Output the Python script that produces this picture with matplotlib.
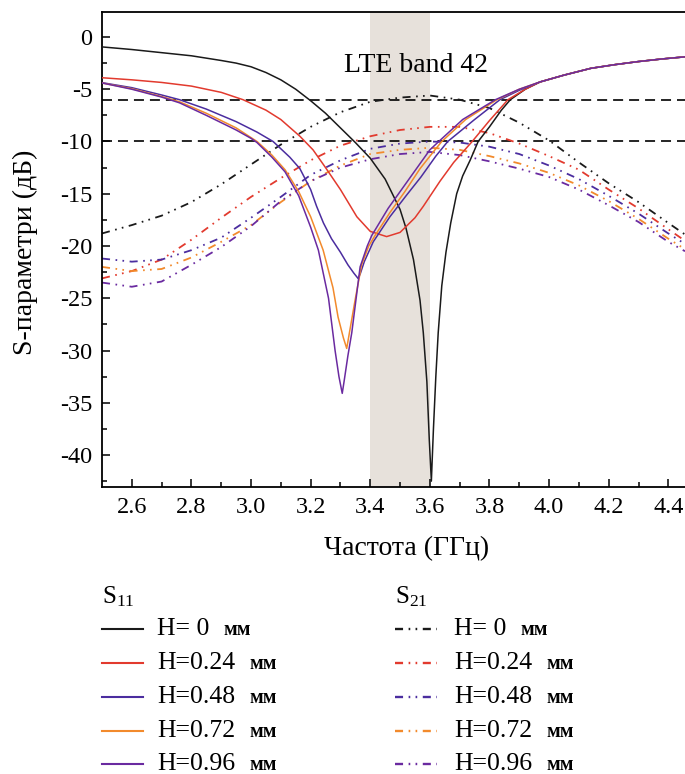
import matplotlib
matplotlib.use("Agg")
import matplotlib.pyplot as plt
from matplotlib.lines import Line2D

plt.rcParams['font.family'] = ['Liberation Serif', 'DejaVu Serif']
plt.rcParams['axes.unicode_minus'] = False
plt.rcParams['mathtext.fontset'] = 'custom'
plt.rcParams['mathtext.rm'] = 'Liberation Serif'
plt.rcParams['mathtext.it'] = 'Liberation Serif:italic'
plt.rcParams['lines.scale_dashes'] = False

# ---------------- data ----------------
labels = ["H= 0", "H=0.24", "H=0.48", "H=0.72", "H=0.96"]
unit = "мм"
colors = ["#1a1a1a", "#e23a2e", "#4b2d9f", "#f28a2c", "#6a2aa0"]

tail_f = [3.97, 4.05, 4.14, 4.22, 4.30, 4.38, 4.456]
tail_v = [-4.3, -3.65, -3.0, -2.65, -2.35, -2.1, -1.9]

s11_f0 = [2.5, 2.6, 2.7, 2.8, 2.9, 2.95, 3.0, 3.05, 3.1, 3.15, 3.2, 3.25, 3.3, 3.35, 3.4,
          3.45, 3.5, 3.52, 3.545, 3.567, 3.578, 3.59, 3.598, 3.605, 3.612, 3.62, 3.628,
          3.64, 3.654, 3.67, 3.69, 3.71, 3.735, 3.762, 3.8, 3.84, 3.87, 3.92] + tail_f
s11_v0 = [-0.95, -1.2, -1.5, -1.8, -2.25, -2.5, -2.85, -3.4, -4.1, -5.0, -6.1, -7.3, -8.7,
          -10.1, -11.6, -13.6, -16.5, -18.3, -21.3, -25.2, -28.3, -33.0, -38.5, -42.5,
          -37.5, -32.5, -28.3, -23.8, -20.6, -17.8, -15.0, -13.3, -11.8, -10.0, -8.6, -7.0,
          -6.0, -5.0] + tail_v

s11_f1 = [2.5, 2.6, 2.7, 2.8, 2.9, 2.973, 3.05, 3.1, 3.164, 3.208, 3.25, 3.3, 3.355, 3.4,
          3.455, 3.5, 3.55, 3.578, 3.634, 3.68, 3.742, 3.8, 3.862, 3.92] + tail_f
s11_v1 = [-3.9, -4.1, -4.35, -4.7, -5.3, -6.0, -7.0, -7.9, -9.5, -10.8, -12.5, -14.6,
          -17.2, -18.6, -19.1, -18.7, -17.3, -16.2, -13.8, -12.0, -10.0, -8.0, -6.0, -5.0] + tail_v

s11_f2 = [2.5, 2.6, 2.7, 2.76, 2.85, 2.95, 3.02, 3.074, 3.13, 3.164, 3.2, 3.22, 3.243, 3.27,
          3.3, 3.325, 3.345, 3.359, 3.366, 3.38, 3.41, 3.466, 3.52, 3.57, 3.62, 3.66,
          3.75, 3.835, 3.9] + tail_f
s11_v2 = [-4.37, -4.85, -5.55, -6.0, -6.9, -8.1, -9.1, -10.0, -11.5, -12.6, -14.6, -16.2,
          -17.8, -19.3, -20.6, -21.8, -22.6, -23.1, -22.7, -21.5, -19.6, -17.2, -15.2,
          -13.4, -11.4, -10.0, -7.9, -6.0, -5.1] + tail_v

s11_f3 = [2.5, 2.6, 2.7, 2.76, 2.85, 2.95, 3.02, 3.07, 3.114, 3.16, 3.2, 3.242, 3.275,
          3.292, 3.31, 3.321, 3.335, 3.349, 3.371, 3.395, 3.416, 3.466, 3.516, 3.567,
          3.617, 3.64, 3.72, 3.825, 3.9] + tail_f
s11_v3 = [-4.4, -4.95, -5.7, -6.2, -7.3, -8.7, -10.0, -11.3, -12.7, -14.8, -17.2, -20.4,
          -24.0, -26.8, -28.8, -29.8, -27.5, -25.2, -21.8, -20.0, -19.0, -16.8, -14.8,
          -12.6, -10.8, -10.0, -7.9, -6.0, -5.0] + tail_v

s11_f4 = [2.5, 2.6, 2.7, 2.76, 2.85, 2.95, 3.0, 3.02, 3.07, 3.114, 3.16, 3.2, 3.226, 3.26,
          3.282, 3.295, 3.306, 3.312, 3.325, 3.338, 3.366, 3.39, 3.405, 3.46, 3.51, 3.56,
          3.6, 3.63, 3.71, 3.82, 3.9] + tail_f
s11_v4 = [-4.4, -5.0, -5.75, -6.3, -7.5, -8.9, -9.7, -10.1, -11.5, -12.9, -15.2, -18.2,
          -20.4, -25.0, -30.0, -32.5, -34.1, -33.0, -30.5, -28.3, -22.0, -20.0, -19.0,
          -16.4, -14.4, -12.4, -10.8, -10.0, -7.9, -6.0, -5.0] + tail_v

s21_f = [2.5, 2.6, 2.7, 2.8, 2.9, 3.0, 3.1, 3.2, 3.3, 3.4, 3.5, 3.6, 3.7, 3.8, 3.9, 4.0,
         4.1, 4.2, 4.3, 4.4, 4.456]
s21_v0 = [-18.8, -18.0, -17.1, -15.8, -14.1, -12.2, -10.3, -8.6, -7.2, -6.2, -5.8, -5.6,
          -6.0, -6.8, -8.2, -9.9, -12.0, -14.0, -15.8, -17.8, -18.9]
s21_v1 = [-23.1, -22.4, -21.3, -19.4, -17.3, -15.3, -13.5, -11.8, -10.4, -9.5, -8.9, -8.6,
          -8.6, -9.2, -10.2, -11.4, -12.7, -14.6, -16.4, -18.4, -19.5]
s21_v2 = [-21.2, -21.5, -21.3, -20.4, -19.2, -17.3, -15.3, -13.2, -11.8, -10.7, -10.2,
          -10.0, -10.1, -10.5, -11.2, -12.3, -13.6, -15.2, -16.9, -18.8, -19.8]
s21_v3 = [-22.0, -22.4, -22.2, -21.1, -19.6, -18.0, -15.8, -13.8, -12.3, -11.2, -10.8,
          -10.6, -10.8, -11.4, -12.1, -13.0, -14.2, -15.7, -17.4, -19.3, -20.3]
s21_v4 = [-23.5, -23.9, -23.4, -21.8, -20.1, -18.1, -15.7, -13.8, -12.5, -11.7, -11.2,
          -11.0, -11.3, -11.9, -12.6, -13.4, -14.6, -16.1, -17.7, -19.6, -20.5]

s11_f = [s11_f0, s11_f1, s11_f2, s11_f3, s11_f4]
s11_v = [s11_v0, s11_v1, s11_v2, s11_v3, s11_v4]
s21_v = [s21_v0, s21_v1, s21_v2, s21_v3, s21_v4]

band = (3.4, 3.6)
thresholds = [-6, -10]
xticks = [2.6, 2.8, 3.0, 3.2, 3.4, 3.6, 3.8, 4.0, 4.2, 4.4]
xminor = [2.7, 2.9, 3.1, 3.3, 3.5, 3.7, 3.9, 4.1, 4.3]
yticks = [0, -5, -10, -15, -20, -25, -30, -35, -40]
yminor = [-2.5, -7.5, -12.5, -17.5, -22.5, -27.5, -32.5, -37.5, -42.5]

# ---------------- figure ----------------
W, H = 685, 774
fig = plt.figure(figsize=(W / 100, H / 100), dpi=100)
ax = fig.add_axes([102 / W, 1 - 487 / H, (W - 102) / W, (487 - 12) / H])
ax.set_xlim(2.5, 4.456)
ax.set_ylim(-43.06, 2.39)

ax.axvspan(band[0], band[1], color="#e7e1db", lw=0, zorder=0)
for t in thresholds:
    ax.axhline(t, color="black", lw=1.2, ls=(0, (7.2, 4.3)), zorder=1)

s21_style = (0, (5.8, 4.0, 1.2, 3.8, 1.2, 4.0))
s11_lines, s21_lines = [], []
for i in range(5):
    l, = ax.plot(s11_f[i], s11_v[i], color=colors[i], lw=1.1, zorder=3)
    s11_lines.append(l)
for i in range(5):
    l, = ax.plot(s21_f, s21_v[i], color=colors[i], lw=1.3, ls=s21_style, zorder=2)
    s21_lines.append(l)

ax.text(3.553, -2.7, "LTE band 42", ha="center", va="center", fontsize=20)

ax.set_xticks(xticks)
ax.set_xticklabels([f"{v:.1f}" for v in xticks])
ax.set_yticks(yticks)
ax.set_yticklabels([str(v) for v in yticks])
ax.set_xticks(xminor, minor=True)
ax.set_yticks(yminor, minor=True)
ax.tick_params(which="both", direction="in", top=False, right=False, width=1.1,
               labelsize=17.5, pad=7)
ax.tick_params(which="major", length=5.5)
ax.tick_params(which="minor", length=3.3)
for s in ["left", "bottom", "top"]:
    ax.spines[s].set_linewidth(1.3)
ax.spines["right"].set_visible(False)

fig.text(407 / W, 1 - 549 / H, "Частота (ГГц)", ha="center", va="center", fontsize=20)
fig.text(25 / W, 1 - 252 / H, "S-параметри (дБ)", ha="center", va="center",
         rotation=90, fontsize=20)

# ---------------- legend ----------------
def fx(x):
    return x / W

def fy(y):
    return 1 - y / H

rows_y = [629, 663, 697, 731, 764]
cols = [(102, 143, 157, "S$_{11}$", s11_lines, "-"), (395, 437, 454, "S$_{21}$", s21_lines, s21_style)]
fig.canvas.draw()
renderer = fig.canvas.get_renderer()
for (hx0, hx1, tx, title, lines, style) in cols:
    fig.text(fx(hx0), fy(597), title, ha="left", va="center", fontsize=18)
    for i, ry in enumerate(rows_y):
        src = lines[i]
        fig.add_artist(Line2D([fx(hx0), fx(hx1)], [fy(ry), fy(ry)], transform=fig.transFigure,
                              color=src.get_color(), lw=src.get_linewidth() + 0.4, ls=style))
        t = fig.text(fx(tx), fy(ry), labels[i], ha="left", va="center", fontsize=18.5)
        bb = t.get_window_extent(renderer)
        fig.text(fx(bb.x1 + 14), fy(ry + 1), unit, ha="left", va="center", fontsize=14.5,
                 fontweight="bold")

fig.savefig("out.png", dpi=100)
